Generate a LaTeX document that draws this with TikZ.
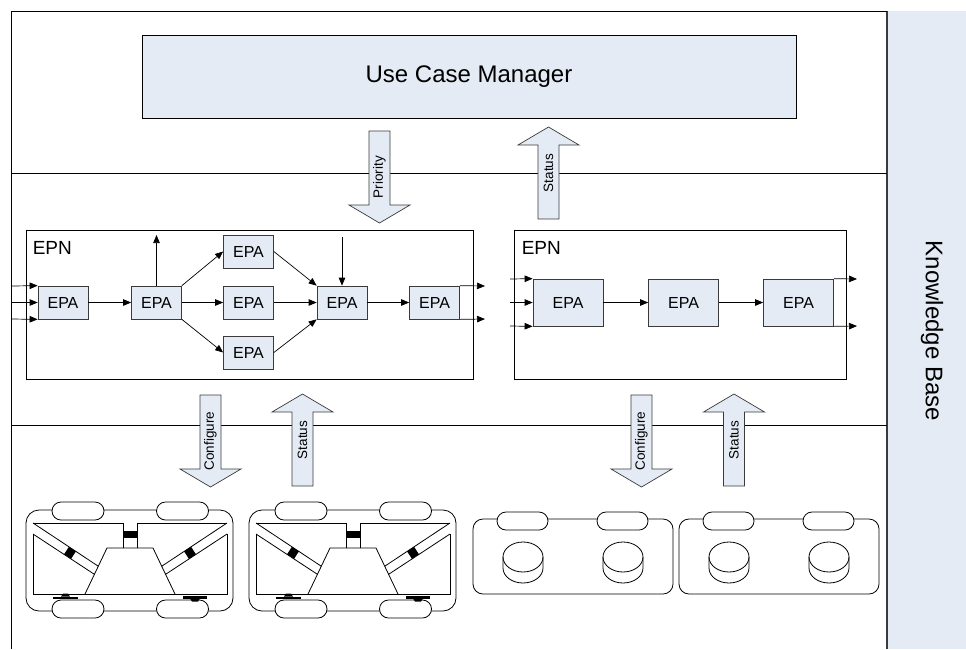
\documentclass[tikz,border=0pt]{standalone}
\usepackage{fontspec}
\setmainfont{Liberation Sans}
\usepackage{tikz}
\usetikzlibrary{arrows.meta, calc, positioning}

\definecolor{boxblue}{HTML}{E4EBF5}
\definecolor{edgegray}{HTML}{3A3A3A}

\tikzset{
	layer/.style={line width=0.9pt},
	epn/.style={draw, line width=0.8pt, inner sep=0pt},
	epa/.style={draw=edgegray, fill=boxblue, line width=0.7pt, minimum width=50pt, minimum height=33pt, inner sep=0pt, font=\fontsize{16}{18}\selectfont},
	bigepa/.style={epa, minimum width=70pt, minimum height=47pt},
	flow/.style={-{Triangle[length=8pt,width=6.5pt]}, line width=0.7pt},
	blockarrow/.style={draw=edgegray, fill=boxblue, line width=0.7pt},
	arrowlabel/.style={rotate=90, inner sep=0pt, font=\fontsize{13.5}{15}\selectfont},
	capsule/.style={draw, fill=white, rounded corners=9pt, line width=0.8pt},
}

\begin{document}
\begin{tikzpicture}[x=1pt, y=-1pt]
	\useasboundingbox (0,0) rectangle (966,649);

	% knowledge base column
	\fill[boxblue] (887,11) rectangle (966,649);
	\draw[edgegray, line width=1.3pt] (887,11) -- (887,649);
	\node [rotate=-90, font=\fontsize{24}{28}\selectfont] (kb) at (932,331) {Knowledge Base};

	% the three layers
	\draw[layer] (11,649) -- (11,11) -- (887,11);
	\draw[layer] (11,173) -- (887,173);
	\draw[layer] (11,425) -- (887,425);

	\node [draw, fill=boxblue, line width=0.8pt, minimum width=654pt, minimum height=83pt, font=\fontsize{24}{28}\selectfont] (ucm) at (469,76.5) {Use Case Manager};

	% left network
	\node [epn, minimum width=447pt, minimum height=149pt] (epnL) at (249.5,304.5) {};
	\node [anchor=base west, inner sep=0pt, font=\fontsize{19}{22}\selectfont] (epnLname) at ($(epnL.north west)+(7,25)$) {EPN};

	\node [epa] (epa1) at (63,302.5) {EPA};
	\node [epa] (epa2) at (156.5,302.5) {EPA};
	\node [epa] (epaT) at (248.5,251.5) {EPA};
	\node [epa] (epaM) at (248.5,302.5) {EPA};
	\node [epa] (epaB) at (248.5,352.5) {EPA};
	\node [epa] (epa4) at (342,302.5) {EPA};
	\node [epa] (epa5) at (434.5,302.5) {EPA};

	\foreach \a/\y [count=\i] in {north west/286, west/302.5, south west/319} {
		\coordinate (inL\i) at (11,\y);
		\draw[flow] (inL\i) -- (epa1.\a);
	}
	\draw[flow] (epa1) -- (epa2);
	\draw[flow] (epa2.north east) -- (epaT.west);
	\draw[flow] (epa2) -- (epaM);
	\draw[flow] (epa2.south east) -- (epaB.west);
	\draw[flow] (epaT.east) -- (epa4.north west);
	\draw[flow] (epaM) -- (epa4);
	\draw[flow] (epaB.east) -- (epa4.south west);
	\draw[flow] (epa4) -- (epa5);
	\coordinate (outUp) at (156.5,235);
	\draw[flow] (epa2.north) -- (outUp);
	\coordinate (inDown) at (342,237);
	\draw[flow] (inDown) -- (epa4.north);
	\foreach \a/\y [count=\i] in {north east/286, south east/319} {
		\coordinate (outL\i) at (485,\y);
		\draw[flow] (epa5.\a) -- (outL\i);
	}

	% right network
	\node [epn, minimum width=332pt, minimum height=149pt] (epnR) at (680,304.5) {};
	\node [anchor=base west, inner sep=0pt, font=\fontsize{19}{22}\selectfont] (epnRname) at ($(epnR.north west)+(8,25)$) {EPN};

	\node [bigepa] (r1) at (568,302.5) {EPA};
	\node [bigepa] (r2) at (683.5,302.5) {EPA};
	\node [bigepa] (r3) at (798.5,302.5) {EPA};

	\foreach \a/\y [count=\i] in {north west/279, west/302.5, south west/326} {
		\coordinate (inR\i) at (510,\y);
		\draw[flow] (inR\i) -- (r1.\a);
	}
	\draw[flow] (r1) -- (r2);
	\draw[flow] (r2) -- (r3);
	\foreach \a/\y [count=\i] in {north east/279, south east/326} {
		\coordinate (outR\i) at (857,\y);
		\draw[flow] (r3.\a) -- (outR\i);
	}

	% block arrows between the layers
	\foreach \x/\y/\t [count=\i] in {379.5/131/Priority, 210.5/395/Configure, 641.5/395/Configure} {
		\draw[blockarrow] (\x-10.5,\y) -- ++(21,0) -- ++(0,74) -- ++(20,0) -- ++(-30.5,18) -- ++(-30.5,-18) -- ++(20,0) -- cycle;
		\node [arrowlabel] (down\i) at (\x,\y+46) {\t};
	}
	\foreach \x/\y/\t [count=\i] in {548.5/127/Status, 302.5/394/Status, 734/394/Status} {
		\draw[blockarrow] (\x,\y) -- ++(30.5,18) -- ++(-20,0) -- ++(0,74) -- ++(-21,0) -- ++(0,-74) -- ++(-20,0) -- cycle;
		\node [arrowlabel] (up\i) at (\x,\y+46) {\t};
	}

	% wheeled robots with arms
	\foreach \dx in {0,223} {
	\begin{scope}[xshift=\dx pt, line width=0.8pt]
		\draw[rounded corners=13pt] (26,510) rectangle (233,611);
		\foreach \cx/\cy in {78/511, 182.5/511, 78/609, 182.5/609}
			\draw[capsule] (\cx-26,\cy-9) rectangle (\cx+26,\cy+9);
		\draw (33,523) -- (123,523) -- (123,548);
		\draw (137,548) -- (137,523) -- (227,523);
		\draw (33,534) -- (33,594) -- (227,594) -- (227,534);
		\draw (85,594) -- (107,548) -- (153,548) -- (175,594);
		\draw (33,523) -- (98.4,566.3);
		\draw (33,534) -- (94.4,574.3);
		\draw (227,523) -- (161.6,566.3);
		\draw (227,534) -- (165.6,574.3);
		\fill (123,531) rectangle (137,538);
		\draw[line width=9pt] (66.5,550.5) -- (73.5,555.1);
		\draw[line width=9pt] (193.5,550.5) -- (186.5,555.1);
		% wheel drives
		\fill (53,596.5) rectangle (78,599);
		\fill (61,596.5) -- (70,596.5) -- (68,593.5) -- (63,593.5) -- cycle;
		\fill (183,596) rectangle (207,598.5);
		\fill (190,598.5) -- (200,598.5) -- (198,601.5) -- (192,601.5) -- cycle;
	\end{scope}
	}

	% robots with two drums
	\foreach \dx in {0,206} {
	\begin{scope}[xshift=\dx pt, line width=0.8pt]
		\draw[rounded corners=10pt] (473,519) rectangle (673,594);
		\foreach \cx in {522.5,622.5}
			\draw[capsule] (\cx-25.5,512) rectangle (\cx+25.5,530);
		\foreach \cx in {523,623} {
			\draw[fill=white] (\cx-20,557) -- (\cx-20,568) arc[start angle=180, end angle=360, x radius=20pt, y radius=15pt] -- (\cx+20,557);
			\draw (\cx,557) ellipse [x radius=20pt, y radius=15pt];
		}
	\end{scope}
	}
\end{tikzpicture}
\end{document}
